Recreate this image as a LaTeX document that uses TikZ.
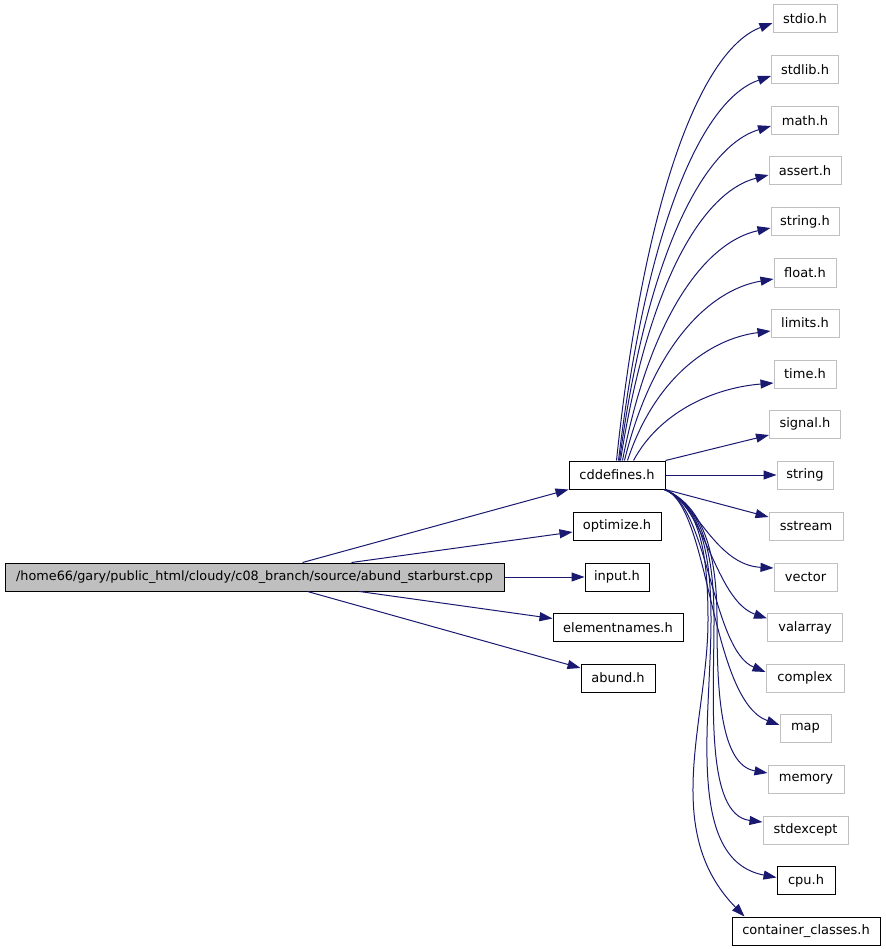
\documentclass[tikz,border=0pt]{standalone}
\usepackage{fontspec}
\setmainfont{DejaVu Sans}
\usetikzlibrary{arrows.meta,calc}
\definecolor{edgeblue}{HTML}{191970}
\definecolor{sysgray}{HTML}{C0C0C0}
\definecolor{mainfill}{HTML}{BFBFBF}
\tikzset{
  base/.style={draw, line width=1pt, minimum height=28pt, inner sep=0pt, font=\fontsize{13}{15}\selectfont, text=black},
  proj/.style={base, draw=black},
  sys/.style={base, draw=sysgray},
  mainbox/.style={base, draw=black, fill=mainfill, font=\fontsize{12.8}{15}\selectfont},
  edge/.style={draw=edgeblue, line width=1pt, -{Triangle[length=13pt,width=9pt]}},
}
\begin{document}
\begin{tikzpicture}[x=1pt,y=-1pt]
\useasboundingbox (0,0) rectangle (885,949);
% nodes
\node[mainbox, minimum width=499pt] (main) at (254.5,577) {/home66/gary/public\_html/cloudy/c08\_branch/source/abund\_starburst.cpp};
\node[proj, minimum width=96pt] (cdd) at (617,475) {cddefines.h};
\node[proj, minimum width=88pt] (opt) at (617,526) {optimize.h};
\node[proj, minimum width=64pt] (inp) at (617,577) {input.h};
\node[proj, minimum width=130pt] (elem) at (618,627.5) {elementnames.h};
\node[proj, minimum width=74pt] (abund) at (618,678) {abund.h};
\node[sys, minimum width=64pt] (stdio) at (805,19) {stdio.h};
\node[sys, minimum width=67pt] (stdlib) at (805,70) {stdlib.h};
\node[sys, minimum width=67pt] (math) at (805,121) {math.h};
\node[sys, minimum width=72pt] (assert) at (805,171) {assert.h};
\node[sys, minimum width=68pt] (stringh) at (805,222) {string.h};
\node[sys, minimum width=62pt] (float) at (805,273) {float.h};
\node[sys, minimum width=68pt] (limits) at (805,323) {limits.h};
\node[sys, minimum width=62pt] (time) at (805,374) {time.h};
\node[sys, minimum width=71pt] (signal) at (805,424) {signal.h};
\node[sys, minimum width=56pt] (string) at (805,475) {string};
\node[sys, minimum width=74pt] (sstream) at (806,526) {sstream};
\node[sys, minimum width=63pt] (vector) at (805.5,577) {vector};
\node[sys, minimum width=75pt] (valarray) at (805,627.5) {valarray};
\node[sys, minimum width=78pt] (complex) at (805,678) {complex};
\node[sys, minimum width=51pt] (map) at (805.5,728) {map};
\node[sys, minimum width=76pt] (memory) at (806,779) {memory};
\node[sys, minimum width=85pt] (stdexcept) at (805.5,830) {stdexcept};
\node[proj, minimum width=58pt] (cpu) at (806,880.5) {cpu.h};
\node[proj, minimum width=148pt] (cc) at (806,931) {container\_classes.h};
% edges from main
\draw[edge] ($(main.north west)+(298,0)$) -- (cdd.south west);
\draw[edge] ($(main.north west)+(347,0)$) -- ($(opt.west)+(0,6)$);
\draw[edge] (main.east) -- (inp.west);
\draw[edge] ($(main.south west)+(355,0)$) -- ($(elem.west)+(0,-9)$);
\draw[edge] ($(main.south west)+(303,0)$) -- ($(abund.west)+(0,-10)$);
% edges from cddefines upwards
\draw[edge] ($(cdd.north west)+(48,0)$) .. controls (645,189) and (703,49) .. ($(stdio.west)+(0,4)$);
\draw[edge] ($(cdd.north west)+(50,0)$) .. controls (647,222) and (703,99) .. ($(stdlib.west)+(0,6)$);
\draw[edge] ($(cdd.north west)+(51,0)$) .. controls (647,253) and (704,146) .. ($(math.west)+(0,5)$);
\draw[edge] ($(cdd.north west)+(52,0)$) .. controls (648,284) and (702,192) .. ($(assert.west)+(0,4)$);
\draw[edge] ($(cdd.north west)+(54,0)$) .. controls (650,317) and (705,242) .. ($(stringh.west)+(0,6)$);
\draw[edge] ($(cdd.north west)+(56,0)$) .. controls (652,348) and (708,290) .. ($(float.west)+(0,6)$);
\draw[edge] ($(cdd.north west)+(59,0)$) .. controls (654,380) and (708,339) .. ($(limits.west)+(0,8)$);
\draw[edge] ($(cdd.north west)+(65,0)$) .. controls (659,413) and (712,388) .. ($(time.west)+(0,9)$);
\draw[edge] (cdd.north east) -- ($(signal.west)+(0,11)$);
\draw[edge] (cdd.east) -- (string.west);
% edges from cddefines downwards
\draw[edge] (cdd.south east) -- ($(sstream.west)+(0,-9)$);
\draw[edge] ($(cdd.south east)+(-1,0)$) .. controls (695,500) and (715,565) .. ($(vector.west)+(0,-9)$);
\draw[edge] ($(cdd.south east)+(-1,0)$) .. controls (705,505) and (715,600) .. ($(valarray.west)+(0,-9)$);
\draw[edge] ($(cdd.south east)+(-1,0)$) .. controls (708,505) and (712,650) .. ($(complex.west)+(0,-6)$);
\draw[edge] ($(cdd.south east)+(-1,0)$) .. controls (710,505) and (710,700) .. ($(map.west)+(0,-3)$);
\draw[edge] ($(cdd.south east)+(-1,0)$) .. controls (702,505) and (717,550) .. (717,620)
   .. controls (717,690) and (720,765) .. ($(memory.west)+(0,-6)$);
\draw[edge] ($(cdd.south east)+(-1,0)$) .. controls (701,505) and (714,550) .. (714,620)
   .. controls (714,700) and (705,815) .. ($(stdexcept.west)+(0,-8)$);
\draw[edge] ($(cdd.south east)+(-1,0)$) .. controls (700,505) and (711,550) .. (711,620)
   .. controls (711,720) and (685,860) .. ($(cpu.west)+(0,-3)$);
\draw[edge] ($(cdd.south east)+(-1,0)$) .. controls (699,505) and (708,550) .. (708,620)
   .. controls (708,720) and (660,830) .. ($(cc.north west)+(13,0)$);
\end{tikzpicture}
\end{document}
